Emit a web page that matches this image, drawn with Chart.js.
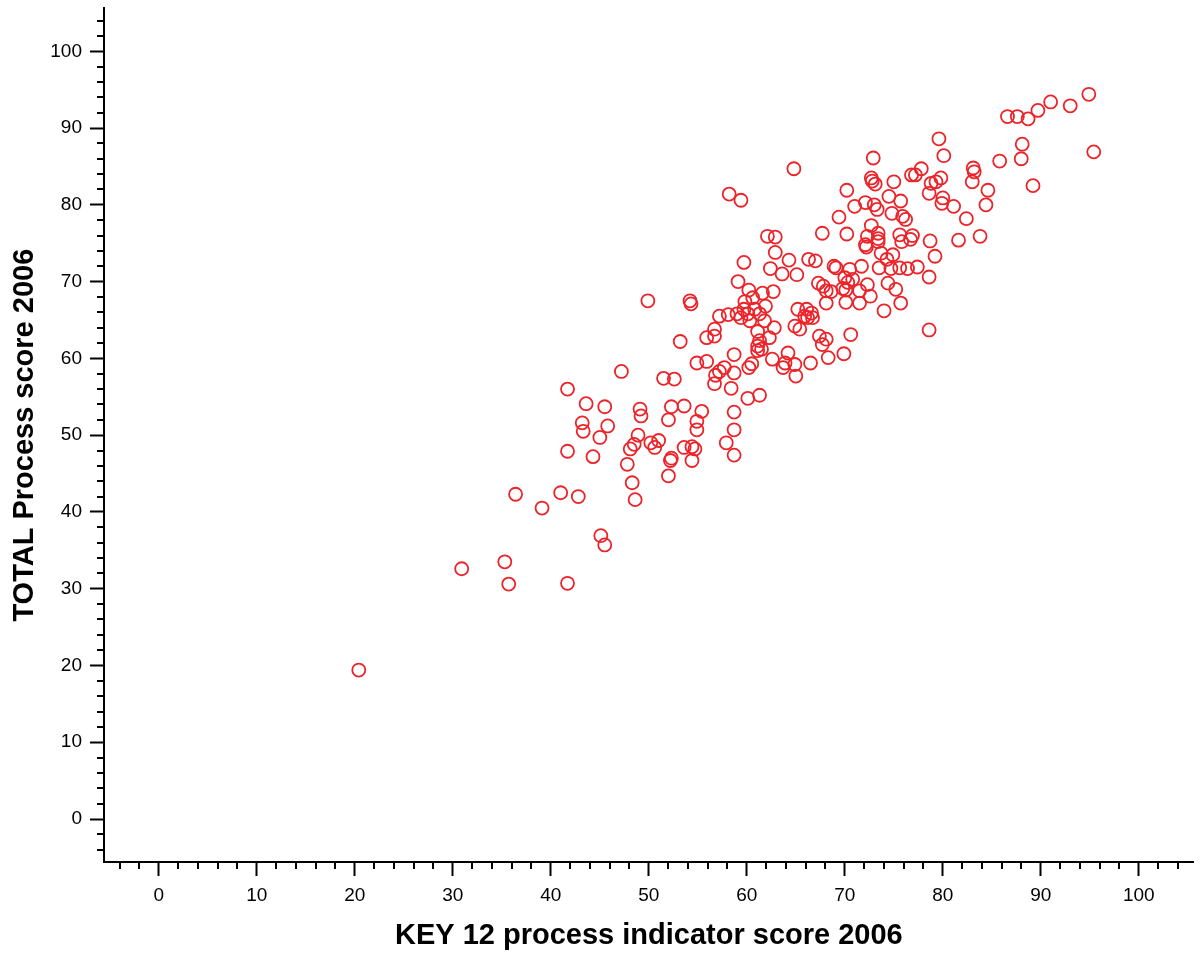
<!DOCTYPE html>
<html>
<head>
<meta charset="utf-8">
<script src="https://cdn.jsdelivr.net/npm/chart.js@4/dist/chart.umd.min.js"></script>
<style>
  html, body { margin: 0; padding: 0; background: #fff; }
  canvas { display: block; }
</style>
</head>
<body>
<canvas id="chart" width="1202" height="953"></canvas>
<script>
// KEY 12 process indicator score vs TOTAL process score (2006), one point per unit
const keyScores = [
    20.4, 30.9, 35.3, 35.7, 36.4, 39.1, 41.0, 42.8, 41.7, 45.1, 45.5,
    47.2, 41.7, 43.6, 45.5, 49.1, 49.2, 52.3, 53.6, 55.4, 58.7,
    43.2, 43.3, 45.8, 52.0, 54.9, 54.9, 58.7, 45.0, 48.9, 48.5,
    48.1, 50.2, 50.6, 51.0, 53.6, 54.4, 54.7, 57.9, 58.7, 41.7,
    44.3, 47.8, 52.3, 52.2, 54.4, 48.3, 52.0, 48.6, 54.9, 55.9,
    56.8, 57.2, 57.7, 58.7, 56.7, 58.4, 51.5, 52.6, 53.2, 55.9,
    58.7, 62.1, 62.9, 67.7, 70.2, 72.7, 72.3, 72.1, 72.2, 73.4,
    73.4, 73.4, 62.9, 59.7, 64.3, 66.3, 67.0, 62.4, 63.6, 65.1,
    68.9, 69.1, 70.5, 71.7, 59.1, 60.2, 61.6, 62.7, 67.3, 67.8,
    68.1, 68.6, 70.0, 70.3, 70.8, 69.8, 70.1, 71.5, 72.3, 72.6,
    68.1, 70.1, 71.5, 59.8, 60.6, 59.7, 60.1, 60.8, 61.3, 59.4,
    60.3, 61.9, 61.8, 57.2, 58.1, 59.0, 56.7, 56.7, 61.1, 62.8,
    62.3, 65.2, 66.1, 66.6, 66.2, 66.7, 65.9, 64.9, 65.4, 67.4,
    68.1, 67.7, 70.6, 69.9, 68.3, 61.3, 61.1, 61.1, 61.5, 60.2,
    60.5, 62.6, 63.7, 64.2, 63.9, 64.9, 65.0, 66.5, 60.1, 61.3,
    49.9, 54.2, 54.3, 74.0, 75.7, 75.2, 74.4, 78.6, 78.6, 79.6,
    88.1, 95.4, 72.9, 80.1, 88.0, 85.8, 64.8, 77.8, 76.8, 77.2,
    83.1, 83.2, 83.0, 89.2, 84.6, 84.4, 82.4, 81.6, 83.8, 72.7,
    72.8, 73.1, 75.0, 70.2, 78.8, 78.6, 79.3, 79.8, 80.0, 79.9,
    81.1, 74.5, 75.7, 71.0, 72.1, 73.0, 73.3, 74.8, 75.9, 76.2,
    69.4, 75.6, 75.8, 76.9, 76.7, 78.7, 79.2, 73.7, 74.3, 74.9,
    73.5, 74.7, 75.6, 76.4, 77.4, 94.9, 91.0, 93.0, 89.7, 86.6,
    87.6, 88.7, 58.2, 59.4
];
const totalScores = [
    19.4, 32.6, 33.5, 30.6, 42.3, 40.5, 42.5, 42.0, 30.7, 36.9, 35.7,
    58.3, 56.0, 54.1, 53.7, 53.4, 52.5, 53.7, 53.8, 53.1, 53.0,
    51.6, 50.5, 51.2, 52.0, 51.8, 50.7, 50.7, 49.7, 50.0, 48.8,
    48.2, 49.0, 48.4, 49.3, 48.4, 48.5, 48.2, 49.0, 47.4, 47.9,
    47.2, 46.2, 47.0, 46.7, 46.7, 43.8, 44.7, 41.6, 59.4, 59.6,
    57.8, 58.3, 58.8, 58.1, 56.7, 56.1, 57.4, 57.3, 62.2, 62.7,
    60.5, 75.9, 75.8, 76.3, 76.2, 77.3, 75.9, 74.8, 74.5, 75.2,
    75.6, 76.3, 73.8, 72.5, 72.8, 72.9, 72.7, 71.7, 71.0, 70.9,
    72.0, 71.8, 71.6, 72.0, 70.0, 68.9, 68.5, 68.7, 69.8, 69.4,
    68.8, 68.7, 70.5, 69.9, 70.3, 69.1, 68.9, 68.8, 69.6, 68.1,
    67.2, 67.3, 67.2, 67.4, 67.9, 66.4, 65.8, 66.4, 65.8, 65.3,
    64.9, 66.8, 64.9, 65.5, 65.7, 65.8, 63.8, 62.9, 63.5, 64.0,
    62.7, 66.4, 66.4, 65.9, 65.3, 65.3, 65.5, 64.2, 63.8, 62.9,
    62.5, 61.8, 63.1, 60.6, 60.1, 62.3, 61.6, 61.0, 61.2, 58.8,
    59.3, 59.9, 58.8, 60.7, 59.4, 59.2, 57.7, 59.4, 54.8, 55.2,
    67.5, 67.5, 67.1, 66.2, 67.2, 69.0, 69.8, 63.7, 70.6, 88.6,
    87.9, 86.9, 86.1, 86.4, 86.0, 85.7, 84.7, 84.7, 83.9, 83.9,
    84.8, 84.3, 83.0, 82.5, 81.9, 80.0, 78.2, 75.4, 75.9, 83.5,
    83.1, 82.7, 83.0, 81.9, 82.8, 81.5, 83.0, 83.5, 80.9, 80.2,
    79.8, 81.1, 80.5, 79.8, 80.3, 80.0, 79.4, 78.9, 78.5, 78.1,
    78.4, 76.1, 75.2, 76.0, 75.5, 75.3, 73.3, 73.7, 72.9, 73.5,
    71.8, 71.7, 71.8, 71.7, 71.9, 94.4, 93.4, 92.9, 92.3, 91.5,
    91.5, 91.2, 81.4, 80.6
];

const axisMin = -5.6;
const axisMax = 105.6;
const majorStep = 10;
const minorStep = 2;

const points = keyScores.map((v, i) => ({ x: v, y: totalScores[i] }));

const FONT = 'Liberation Sans, Arial, Helvetica, sans-serif';

// short unlabeled ticks between the labeled ones
const minorTicks = {
    id: 'minorTicks',
    afterDraw(chart) {
        const ctx = chart.ctx;
        const area = chart.chartArea;
        const xs = chart.scales.x;
        const ys = chart.scales.y;
        ctx.save();
        ctx.strokeStyle = '#000';
        ctx.lineWidth = 2;
        ctx.beginPath();
        for (let v = Math.ceil(axisMin / minorStep) * minorStep; v <= axisMax; v += minorStep) {
            if (v % majorStep === 0) continue;
            const px = Math.round(xs.getPixelForValue(v));
            ctx.moveTo(px, area.bottom);
            ctx.lineTo(px, area.bottom + 7);
            const py = Math.round(ys.getPixelForValue(v));
            ctx.moveTo(area.left, py);
            ctx.lineTo(area.left - 7, py);
        }
        ctx.stroke();
        ctx.restore();
    }
};

function axisOptions(title, titlePadding, fit) {
    return {
        type: 'linear',
        min: axisMin,
        max: axisMax,
        afterFit: s => {
            fit(s);
            // labels never reach the ends of the axis, no extra room needed
            s.paddingTop = 0;
            s.paddingBottom = 0;
            s.paddingLeft = 0;
            s.paddingRight = 0;
        },
        border: { display: true, color: '#000', width: 2 },
        grid: {
            drawOnChartArea: false,
            drawTicks: true,
            tickLength: 14,
            tickWidth: 2,
            tickColor: '#000'
        },
        ticks: {
            stepSize: majorStep,
            includeBounds: false,
            color: '#000',
            font: { family: FONT, size: 19 },
            padding: 8
        },
        title: {
            display: true,
            text: title,
            color: '#000',
            font: { family: FONT, size: 29, weight: 'bold' },
            padding: titlePadding
        }
    };
}

new Chart(document.getElementById('chart'), {
    type: 'scatter',
    data: {
        datasets: [{
            data: points,
            pointStyle: 'circle',
            pointRadius: 6.5,
            pointBackgroundColor: 'rgba(0,0,0,0)',
            pointBorderColor: 'rgb(236, 36, 42)',
            pointBorderWidth: 1.8
        }]
    },
    options: {
        responsive: false,
        devicePixelRatio: 1,
        animation: false,
        events: [],
        layout: { padding: { top: 7, right: 5, left: 0, bottom: 0 } },
        plugins: {
            legend: { display: false },
            tooltip: { enabled: false }
        },
        scales: {
            x: axisOptions('KEY 12 process indicator score 2006', { top: 0, bottom: 0 },
                s => { s.height = 91; }),
            y: axisOptions('TOTAL Process score 2006', { top: 8, bottom: 0 },
                s => { s.width = 104; })
        }
    },
    plugins: [minorTicks]
});
</script>
</body>
</html>
